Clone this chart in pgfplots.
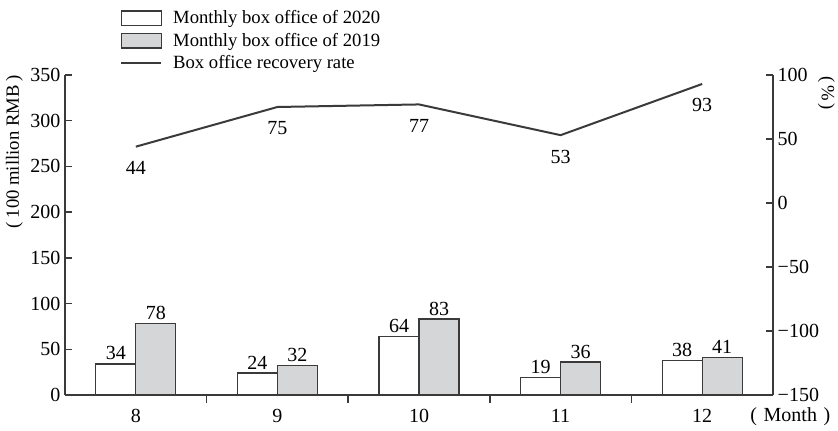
\documentclass[border=0pt]{standalone}
\usepackage{pgfplots}
\pgfplotsset{compat=1.18}
\usepackage{fontspec}
\setmainfont{Liberation Serif}
\definecolor{barg}{HTML}{D5D6D8}
\definecolor{edge}{HTML}{3A3A3A}
\newcommand{\numfont}{\fontsize{15}{17}\selectfont}
\newcommand{\txtfont}{\fontsize{14}{16}\selectfont}
\pgfplotsset{
  boxlegend/.style={legend image code/.code={\draw[##1] (0pt,-5.5pt) rectangle (30pt,5.5pt);}},
  linelegend/.style={legend image code/.code={\draw[##1] (0pt,0pt) -- (30pt,0pt);}},
}
\begin{document}
\begin{tikzpicture}[font=\txtfont]
\path[use as bounding box] (-48.75pt,-27pt) rectangle (579.75pt,296.25pt);
\begin{axis}[
  at={(0,0)}, anchor=south west,
  scale only axis, width=531pt, height=240pt,
  xmin=7.5, xmax=12.5, ymin=0, ymax=350,
  axis y line*=left, axis x line*=bottom,
  axis line style={line width=1.1pt, edge, -},
  xtick={8,9,10,11,12}, major x tick style={draw=none},
  minor xtick={8.5,9.5,10.5,11.5},
  minor tick length=6pt, minor x tick style={line width=1.1pt, edge},
  ytick={0,50,...,350}, major tick length=5pt,
  major y tick style={line width=1.1pt, edge},
  tick label style={font=\numfont},
  xticklabel style={yshift=-2pt},
  /pgf/number format/assume math mode=true,
  ybar=0pt, bar width=30pt,
  nodes near coords, every node near coord/.append style={font=\numfont, text=black, yshift=-1pt},
  clip=false,
]
\addplot[fill=white, draw=edge, line width=1pt] coordinates {(8,34) (9,24) (10,64) (11,19) (12,38)};
\addplot[fill=barg, draw=edge, line width=1pt] coordinates {(8,78) (9,32) (10,83) (11,36) (12,41)};
\node[rotate=90, xshift=0pt, yshift=38pt] at (rel axis cs:0,0.76) {(\hspace{3pt}100 million RMB\hspace{3pt})};
\node[xshift=13pt, yshift=-16pt, font=\fontsize{15}{17}\selectfont] at (rel axis cs:1,0) {(\hspace{5pt}Month\hspace{5pt})};
\end{axis}
\begin{axis}[
  at={(0,0)}, anchor=south west,
  scale only axis, width=531pt, height=240pt,
  xmin=7.5, xmax=12.5, ymin=-150, ymax=100,
  axis y line*=right, axis x line=none,
  axis line style={line width=1.1pt, edge, -},
  ytick={-150,-100,-50,0,50,100},
  yticklabels={−150,−100,−50,0,50,100},
  major tick length=5pt, major y tick style={line width=1.1pt, edge},
  tick label style={font=\numfont},
  /pgf/number format/assume math mode=true,
  clip=false,
  legend style={at={(rel axis cs:0.078,1.21)}, anchor=north west, draw=none, fill=none,
    font=\txtfont, row sep=1.5pt, inner sep=0pt,
    /tikz/every odd column/.append style={column sep=6pt}},
  legend cell align=left,
]
\addlegendimage{fill=white, draw=edge, line width=1pt, boxlegend}
\addlegendentry{Monthly box office of 2020}
\addlegendimage{fill=barg, draw=edge, line width=1pt, boxlegend}
\addlegendentry{Monthly box office of 2019}
\addplot[edge, line width=1.5pt, mark=none, linelegend,
  nodes near coords, every node near coord/.append style={font=\numfont, text=black, anchor=north, yshift=-7pt}]
  coordinates {(8,44) (9,75) (10,77) (11,53) (12,93)};
\addlegendentry{Box office recovery rate}
\node[rotate=-90, yshift=40pt] at (rel axis cs:1,0.944) {(\hspace{2pt}\%\hspace{2pt})};
\end{axis}
\end{tikzpicture}
\end{document}
